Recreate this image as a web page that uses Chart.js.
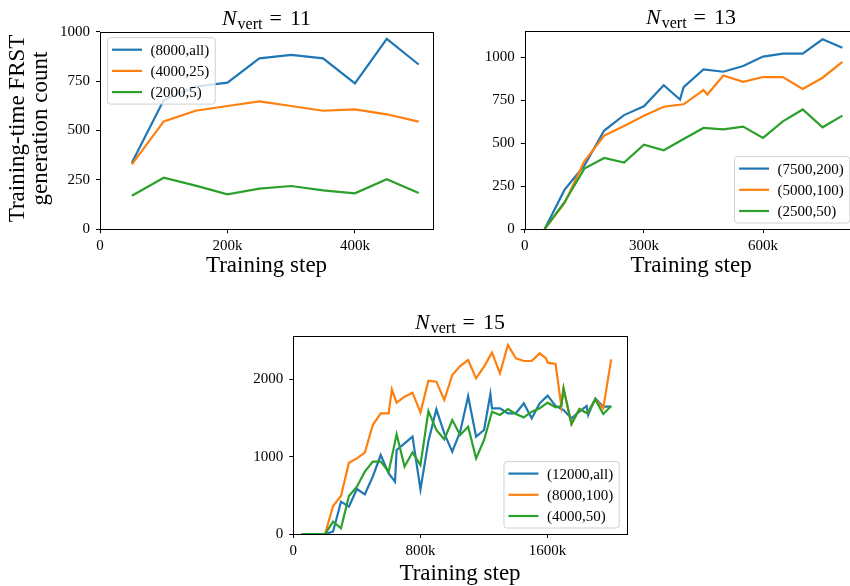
<!DOCTYPE html>
<html>
<head>
<meta charset="utf-8">
<script src="https://cdn.jsdelivr.net/npm/chart.js@4/dist/chart.umd.min.js"></script>
<style>
  html, body { margin: 0; padding: 0; background: #fff; overflow: hidden; }
  #fig { position: relative; width: 850px; height: 586px; overflow: hidden; background: #fff; }
  #fig canvas { position: absolute; }
</style>
</head>
<body>
<div id="fig">
  <canvas id="c11" width="450" height="290" style="left:0;top:0"></canvas>
  <canvas id="c13" width="420" height="290" style="left:450px;top:0"></canvas>
  <canvas id="c15" width="500" height="296" style="left:200px;top:290px"></canvas>
</div>
<script>
// Training steps are stored in thousands (50 = 50k).

// ---- N_vert = 11 ----
const n11Steps = [50, 100, 150, 200, 250, 300, 350, 400, 450, 500];
const n11Gen8000all = [337, 654, 722, 742, 865, 883, 865, 738, 964, 834];
const n11Gen4000_25 = [329, 546, 600, 624, 647, 624, 600, 607, 582, 545];
const n11Gen2000_5 = [170, 261, 221, 177, 206, 219, 197, 182, 253, 184];

// ---- N_vert = 13 ----
const n13Steps7500 = [50, 100, 150, 200, 250, 300, 350, 391, 400, 450, 500, 550, 600, 650, 700, 750, 800];
const n13Gen7500_200 = [0, 228, 370, 574, 664, 715, 838, 755, 827, 931, 917, 950, 1005, 1022, 1022, 1106, 1057];
const n13Steps5000 = [50, 100, 150, 200, 250, 300, 350, 400, 450, 460, 500, 550, 600, 650, 700, 750, 800];
const n13Gen5000_100 = [0, 150, 394, 545, 600, 660, 713, 727, 810, 784, 895, 858, 886, 886, 817, 882, 974];
const n13Steps2500 = [50, 100, 150, 200, 250, 300, 350, 400, 450, 500, 550, 600, 650, 700, 750, 800];
const n13Gen2500_50 = [0, 156, 352, 414, 387, 492, 459, 525, 589, 581, 597, 531, 628, 697, 593, 661];

// ---- N_vert = 15 ----
const n15Steps12000 = [50, 100, 150, 200, 250, 300, 350, 400, 450, 500, 550, 600, 640, 650, 700, 750, 800, 850, 900, 950,
  1000, 1050, 1100, 1150, 1200, 1240, 1250, 1300, 1350, 1400, 1450, 1500, 1550, 1600, 1650, 1700, 1750, 1800, 1845, 1855,
  1900, 1950, 2000];
const n15Gen12000all = [0, 0, 0, 0, 30, 418, 353, 582, 513, 741, 1021, 784, 677, 1086, 1172, 1258, 577, 1200, 1612, 1300,
  1065, 1323, 1784, 1259, 1345, 1810, 1625, 1625, 1560, 1560, 1690, 1496, 1690, 1789, 1655, 1603, 1496, 1582, 1655, 1539,
  1754, 1646, 1646];
const n15Steps8000 = [50, 100, 150, 200, 250, 300, 350, 400, 450, 500, 550, 600, 620, 650, 700, 750, 800, 850, 900, 950,
  1000, 1050, 1100, 1150, 1200, 1250, 1300, 1350, 1400, 1450, 1500, 1550, 1590, 1600, 1650, 1686, 1700, 1750, 1800, 1850,
  1900, 1950, 2000];
const n15Gen8000_100 = [0, 0, 0, 0, 362, 491, 922, 978, 1052, 1409, 1560, 1560, 1870, 1698, 1776, 1827, 1573, 1983, 1970, 1733,
  2056, 2172, 2250, 2013, 2164, 2345, 2077, 2444, 2271, 2237, 2237, 2336, 2271, 2215, 2198, 1655, 1883, 1422, 1616, 1560,
  1741, 1625, 2258];
const n15Steps4000 = [50, 100, 150, 200, 250, 300, 350, 400, 450, 500, 550, 600, 650, 700, 750, 800, 850, 900, 950, 1000,
  1050, 1100, 1150, 1200, 1250, 1300, 1350, 1400, 1450, 1500, 1550, 1600, 1650, 1686, 1700, 1750, 1800, 1850, 1900, 1950,
  2000];
const n15Gen4000_50 = [0, 0, 0, 0, 160, 73, 491, 612, 806, 935, 935, 806, 1289, 871, 1056, 892, 1590, 1345, 1224, 1474,
  1280, 1388, 978, 1215, 1582, 1539, 1616, 1552, 1508, 1582, 1625, 1698, 1638, 1655, 1883, 1422, 1616, 1560, 1741, 1552,
  1655];

// Tick values
const n11XTicks = [0, 200, 400];
const n13XTicks = [0, 300, 600];
const n15XTicks = [0, 800, 1600];
const n11YTicks = [0, 250, 500, 750, 1000];
const n13YTicks = [0, 250, 500, 750, 1000];
const n15YTicks = [0, 1000, 2000];

const FONT = '"Liberation Serif", "Times New Roman", "DejaVu Serif", serif';
const BLUE = '#1f77b4', ORANGE = '#ff7f0e', GREEN = '#2ca02c';

const pts = (xs, ys) => xs.map((x, i) => ({ x, y: ys[i] }));
const stepLabel = v => (v === 0 ? '0' : v + 'k');

function drawTitle(ctx, cx, baseY, num) {
  const big = '22px ' + FONT, bigI = 'italic 22px ' + FONT, sub = '16px ' + FONT;
  ctx.font = bigI; const wN = ctx.measureText('N').width;
  ctx.font = sub; const wS = ctx.measureText('vert').width;
  ctx.font = big; const wEq = ctx.measureText('=').width; const wNum = ctx.measureText(num).width;
  const g1 = 1, g2 = 7, g3 = 8;
  let x = cx - (wN + g1 + wS + g2 + wEq + g3 + wNum) / 2;
  ctx.fillStyle = '#000'; ctx.textAlign = 'left'; ctx.textBaseline = 'alphabetic';
  ctx.font = bigI; ctx.fillText('N', x, baseY); x += wN + g1;
  ctx.font = sub; ctx.fillText('vert', x, baseY + 4); x += wS + g2;
  ctx.font = big; ctx.fillText('=', x, baseY); x += wEq + g3;
  ctx.fillText(num, x, baseY);
}

function roundRect(ctx, x, y, w, h, r) {
  ctx.beginPath();
  ctx.moveTo(x + r, y);
  ctx.lineTo(x + w - r, y); ctx.arcTo(x + w, y, x + w, y + r, r);
  ctx.lineTo(x + w, y + h - r); ctx.arcTo(x + w, y + h, x + w - r, y + h, r);
  ctx.lineTo(x + r, y + h); ctx.arcTo(x, y + h, x, y + h - r, r);
  ctx.lineTo(x, y + r); ctx.arcTo(x, y, x + r, y, r);
  ctx.closePath();
}

function drawLegend(chart, corner) {
  const { ctx, chartArea: a } = chart;
  const sets = chart.data.datasets;
  ctx.save();
  ctx.font = '15px ' + FONT;
  const textW = Math.max(...sets.map(d => ctx.measureText(d.label).width));
  const padL = 4.5, handle = 30, gap = 8.5, padR = 6, rowH = 21.2, padT = 12;
  const w = padL + handle + gap + textW + padR;
  const h = padT * 2 + rowH * (sets.length - 1);
  let x, y;
  if (corner === 'ul') { x = a.left + 7.5; y = a.top + 6; }
  else { x = a.right - 7.5 - w; y = a.bottom - 6 - h; }
  roundRect(ctx, x, y, w, h, 3);
  ctx.fillStyle = 'rgba(255,255,255,0.8)';
  ctx.fill();
  ctx.strokeStyle = '#d0d0d0';
  ctx.lineWidth = 1;
  ctx.stroke();
  sets.forEach((d, i) => {
    const cy = y + padT + i * rowH;
    ctx.strokeStyle = d.borderColor;
    ctx.lineWidth = 2.2;
    ctx.beginPath();
    ctx.moveTo(x + padL, cy); ctx.lineTo(x + padL + handle, cy);
    ctx.stroke();
    ctx.fillStyle = '#000';
    ctx.textAlign = 'left'; ctx.textBaseline = 'middle';
    ctx.fillText(d.label, x + padL + handle + gap, cy + 1);
  });
  ctx.restore();
}

// Frame, titles, axis labels and legend for each panel
const panelDecor = {
  id: 'panelDecor',
  afterDatasetsDraw(chart) {
    const { ctx, chartArea: a } = chart;
    ctx.save();
    ctx.strokeStyle = '#000';
    ctx.lineWidth = 1;
    const l = Math.round(a.left) + 0.5, t = Math.round(a.top) + 0.5;
    const r = Math.round(a.right) + 0.5, b = Math.round(a.bottom) + 0.5;
    ctx.strokeRect(l, t, r - l, b - t);
    ctx.restore();
  },
  afterDraw(chart, args, o) {
    const { ctx, chartArea: a } = chart;
    const cx = (a.left + a.right) / 2;
    ctx.save();
    drawTitle(ctx, cx, a.top - 7, o.num);
    ctx.fillStyle = '#000';
    ctx.font = '23px ' + FONT;
    ctx.textAlign = 'center'; ctx.textBaseline = 'alphabetic';
    ctx.fillText('Training step', cx, o.xLabelY);
    if (o.yLabel) {
      const cy = (a.top + a.bottom) / 2 - 2;
      ctx.textBaseline = 'middle';
      o.yLabel.forEach((line, i) => {
        ctx.save();
        ctx.translate(o.yLabelX[i], cy);
        ctx.rotate(-Math.PI / 2);
        ctx.fillText(line, 0, 0);
        ctx.restore();
      });
    }
    ctx.restore();
    drawLegend(chart, o.legend);
  }
};

function axis(min, max, ticks, fmt, isX) {
  return {
    type: 'linear',
    min, max,
    afterBuildTicks: s => { s.ticks = ticks.map(v => ({ value: v })); },
    afterFit: s => { if (isX) s.height = 50; else s.width = 60; },
    grid: { drawOnChartArea: false, drawTicks: true, tickLength: 4, color: '#000', lineWidth: 1 },
    border: { display: false },
    ticks: {
      font: { family: FONT, size: 15 },
      color: '#000',
      padding: isX ? 4 : 6,
      maxRotation: 0,
      autoSkip: false,
      callback: fmt
    }
  };
}

function makeChart(id, datasets, xr, yr, pad, decor) {
  return new Chart(document.getElementById(id), {
    type: 'line',
    data: { datasets },
    options: {
      responsive: false,
      animation: false,
      devicePixelRatio: 1,
      layout: { padding: pad },
      elements: { point: { radius: 0 }, line: { borderWidth: 2.2, tension: 0 } },
      plugins: { legend: { display: false }, tooltip: { enabled: false }, panelDecor: decor },
      scales: {
        x: axis(xr[0], xr[1], xr[2], stepLabel, true),
        y: axis(yr[0], yr[1], yr[2], v => String(v), false)
      }
    },
    plugins: [panelDecor]
  });
}

const ds = (label, color, data, order) => ({ label, data, borderColor: color, backgroundColor: color, fill: false, order });

makeChart('c11', [
  ds('(8000,all)', BLUE, pts(n11Steps, n11Gen8000all), 3),
  ds('(4000,25)', ORANGE, pts(n11Steps, n11Gen4000_25), 2),
  ds('(2000,5)', GREEN, pts(n11Steps, n11Gen2000_5), 1)
], [0, 522.5, n11XTicks], [0, 1000, n11YTicks],
  { left: 40, right: 17, top: 31.7, bottom: 10.7 },
  { num: '11', legend: 'ul', xLabelY: 272, yLabel: ['Training-time FRST', 'generation count'], yLabelX: [18, 41] });

makeChart('c13', [
  ds('(7500,200)', BLUE, pts(n13Steps7500, n13Gen7500_200), 3),
  ds('(5000,100)', ORANGE, pts(n13Steps5000, n13Gen5000_100), 2),
  ds('(2500,50)', GREEN, pts(n13Steps2500, n13Gen2500_50), 1)
], [0, 837.5, n13XTicks], [0, 1155, n13YTicks],
  { left: 14.8, right: 12.7, top: 30.9, bottom: 11 },
  { num: '13', legend: 'lr', xLabelY: 272 });

makeChart('c15', [
  ds('(12000,all)', BLUE, pts(n15Steps12000, n15Gen12000all), 3),
  ds('(8000,100)', ORANGE, pts(n15Steps8000, n15Gen8000_100), 2),
  ds('(4000,50)', GREEN, pts(n15Steps4000, n15Gen4000_50), 1)
], [0, 2097.5, n15XTicks], [0, 2564, n15YTicks],
  { left: 33.3, right: 73.3, top: 45.7, bottom: 2 },
  { num: '15', legend: 'lr', xLabelY: 290 });
</script>
</body>
</html>
